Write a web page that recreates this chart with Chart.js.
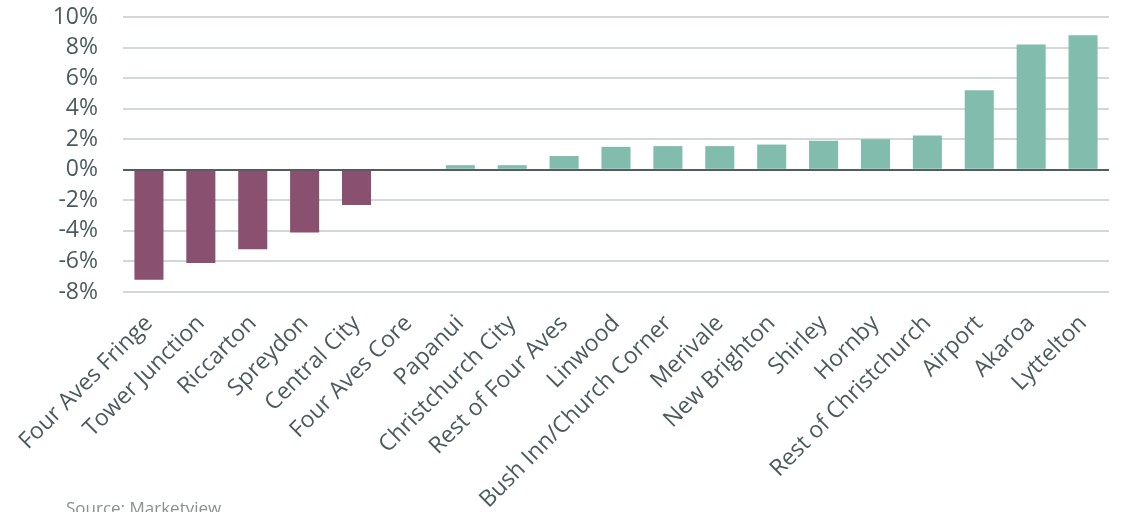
<!DOCTYPE html>
<html lang="en">
<head>
    <meta charset="UTF-8">
    <title>Spending change by area</title>
    <script src="https://cdn.jsdelivr.net/npm/chart.js@4/dist/chart.umd.min.js"></script>
    <style>
        body {
            margin: 0;
            background: #ffffff;
            font-family: 'Open Sans', sans-serif;
        }
        .wrap {
            position: relative;
            width: 1127px;
            height: 512px;
            overflow: hidden;
        }
        .source {
            position: absolute;
            left: 66px;
            top: 496px;
            font-size: 17px;
            color: #8a8f90;
        }
    </style>
</head>
<body>
    <div class="wrap">
        <canvas id="areaChart" width="1127" height="512"></canvas>
        <div class="source">Source: Marketview</div>
    </div>

    <script>
        const areas = ['Four Aves Fringe', 'Tower Junction', 'Riccarton', 'Spreydon', 'Central City',
            'Four Aves Core', 'Papanui', 'Christchurch City', 'Rest of Four Aves', 'Linwood',
            'Bush Inn/Church Corner', 'Merivale', 'New Brighton', 'Shirley', 'Hornby',
            'Rest of Christchurch', 'Airport', 'Akaroa', 'Lyttelton'];
        const changePct = [-7.2, -6.1, -5.2, -4.1, -2.3, 0, 0.3, 0.3, 0.9, 1.5,
            1.55, 1.55, 1.65, 1.9, 2.0, 2.25, 5.2, 8.2, 8.8];
        const yTicks = [10, 8, 6, 4, 2, 0, -2, -4, -6, -8];

        const textColor = '#4b5b5d';
        const barColors = changePct.map(v => v < 0 ? '#89506f' : '#82bcac');

        const ctx = document.getElementById('areaChart').getContext('2d');
        new Chart(ctx, {
            type: 'bar',
            data: {
                labels: areas,
                datasets: [{
                    data: changePct,
                    backgroundColor: barColors,
                    barPercentage: 0.56,
                    categoryPercentage: 1.0
                }]
            },
            options: {
                responsive: false,
                animation: false,
                layout: { padding: { top: 17, right: 18, left: 0, bottom: 0 } },
                plugins: {
                    legend: { display: false },
                    tooltip: { enabled: false }
                },
                scales: {
                    x: {
                        grid: { display: false },
                        border: { display: false },
                        ticks: {
                            color: textColor,
                            font: { family: 'Open Sans', size: 23 },
                            minRotation: 45,
                            maxRotation: 45,
                            autoSkip: false,
                            padding: 10
                        },
                        afterFit: scale => { scale.height = 220; }
                    },
                    y: {
                        min: -8,
                        max: 10,
                        afterBuildTicks: scale => {
                            scale.ticks = yTicks.map(v => ({ value: v }));
                        },
                        grid: {
                            drawTicks: false,
                            lineWidth: 2,
                            color: c => c.tick && c.tick.value === 0 ? '#4f5e60' : '#d2d7d8'
                        },
                        border: { display: false },
                        ticks: {
                            color: textColor,
                            font: { family: 'Open Sans', size: 23 },
                            padding: 25,
                            autoSkip: false,
                            callback: v => v + '%'
                        },
                        afterFit: scale => {
                            scale.width = 123;
                            // tick padding would otherwise push the plot down
                            scale.paddingTop = 0;
                            scale.paddingBottom = 0;
                        }
                    }
                }
            }
        });
    </script>
</body>
</html>
